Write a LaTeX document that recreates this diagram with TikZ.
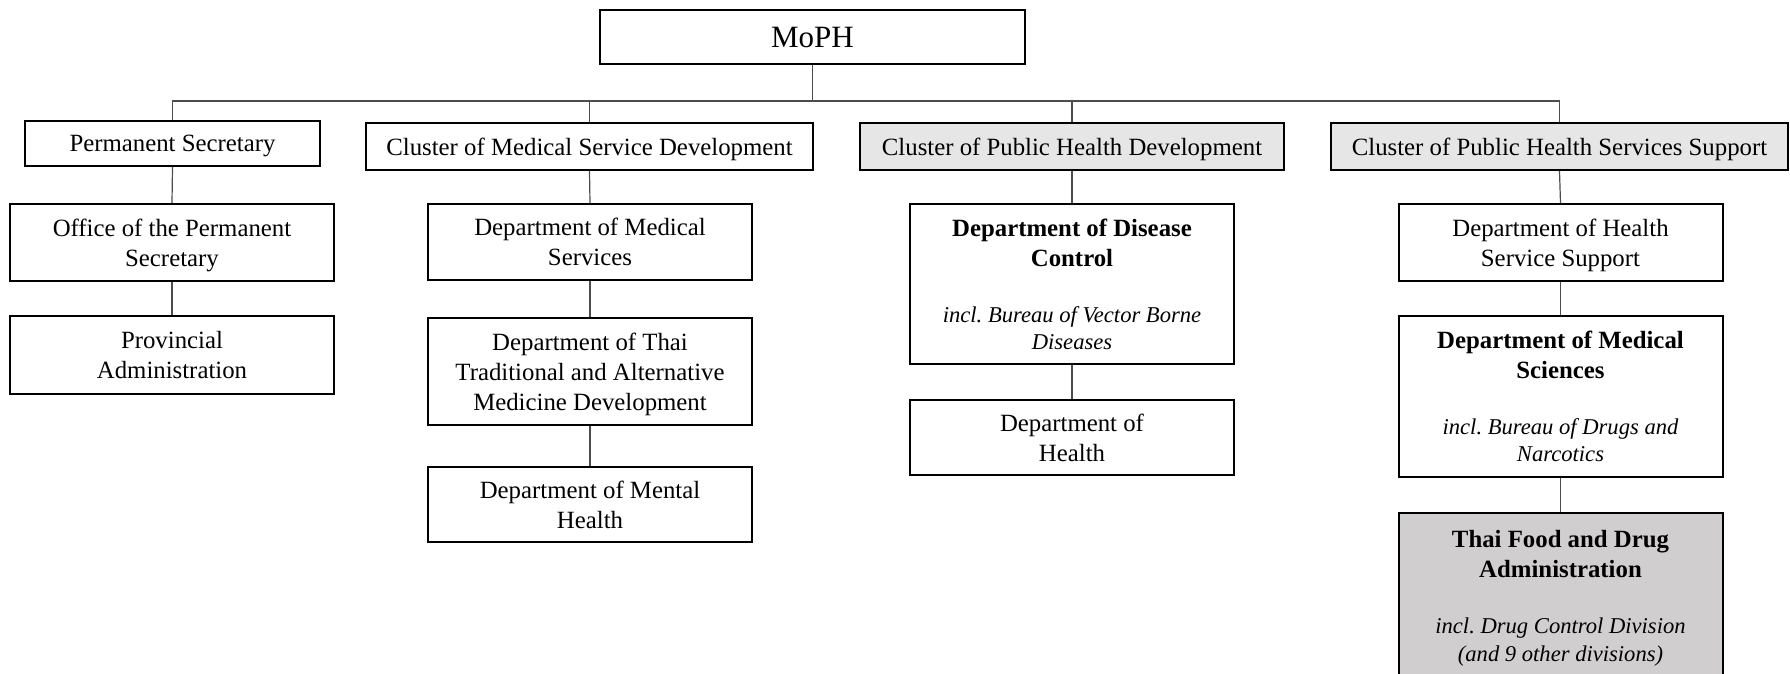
\documentclass[tikz,border=0pt]{standalone}
\usepackage{fontspec}
\setmainfont{Liberation Serif}
\definecolor{clustergray}{HTML}{E7E6E6}
\definecolor{fdagray}{HTML}{D0CECE}
\newcommand{\incl}[1]{{\fontsize{11.3}{13.7}\selectfont\itshape #1}}
\frenchspacing
\begin{document}
\begin{tikzpicture}[x=0.5pt,y=-0.5pt,
  unit/.style={draw,line width=1pt,align=center,inner sep=0pt,minimum width=162pt,text depth=0pt,
    font=\fontsize{12.4}{15}\selectfont},
  cluster/.style={unit,minimum height=23.5pt,fill=clustergray},
  link/.style={draw=black!70,line width=0.6pt}]
  \useasboundingbox (0,0) rectangle (1790,674);
  \clip (0,0) rectangle (1790,674);
  % ministry
  \node[unit,minimum width=212.5pt,minimum height=27pt,font=\fontsize{15.5}{18}\selectfont] (moph) at (812.5,37) {MoPH};
  % clusters
  \node[unit,minimum width=147.5pt,minimum height=22.5pt] (ps) at (172.5,143.5) {Permanent Secretary};
  \node[unit,minimum width=223.5pt,minimum height=23.5pt] (cmsd) at (589.5,146.5) {Cluster of Medical Service Development};
  \node[cluster,minimum width=212pt] (cphd) at (1072,146.5) {Cluster of Public Health Development};
  \node[cluster,minimum width=228.5pt] (cphss) at (1559.5,146.5) {Cluster of Public Health Services Support};
  % departments
  \node[unit,minimum height=38.5pt] (ops) at (172,242.5) {Office of the Permanent\\Secretary};
  \node[unit,minimum height=39pt] (prov) at (172,355) {Provincial\\Administration};
  \node[unit,minimum height=38pt] (dms) at (590,242) {Department of Medical\\Services};
  \node[unit,minimum height=53.5pt] (dttam) at (590,371.5) {Department of Thai\\Traditional and Alternative\\Medicine Development};
  \node[unit,minimum height=37.5pt] (dmh) at (590,504.5) {Department of Mental\\Health};
  \node[unit,minimum height=80pt] (ddc) at (1072,284) {\textbf{Department of Disease}\\\textbf{Control}\\[13pt]
    \incl{incl. Bureau of Vector Borne}\\[-1.3pt]\incl{Diseases}};
  \node[unit,minimum height=37.5pt] (doh) at (1072,437.5) {Department of\\Health};
  \node[unit,minimum height=38.5pt] (dhss) at (1560.5,242.5) {Department of Health\\Service Support};
  \node[unit,minimum height=80.5pt] (dmsc) at (1560.5,396.5) {\textbf{Department of Medical}\\\textbf{Sciences}\\[13pt]
    \incl{incl. Bureau of Drugs and}\\[-1.3pt]\incl{Narcotics}};
  \node[unit,minimum height=83pt,fill=fdagray] (fda) at (1560.5,596) {\textbf{Thai Food and Drug}\\\textbf{Administration}\\[13pt]
    \incl{incl. Drug Control Division}\\[-1.3pt]\incl{(and 9 other divisions)}};
  % connectors
  \coordinate (bus) at (812.5,101);
  \draw[link] (moph.south) -- (moph.south |- bus);
  \draw[link] (ps.north) |- (cphss.north |- bus) -- (cphss.north);
  \foreach \c in {cmsd,cphd}
    \draw[link] (\c.north) -- (\c.north |- bus);
  \foreach \a/\b in {ps/ops,ops/prov,cmsd/dms,dms/dttam,dttam/dmh,cphd/ddc,ddc/doh,cphss/dhss,dhss/dmsc,dmsc/fda}
    \draw[link] (\a.south) -- (\b.north);
\end{tikzpicture}
\end{document}
